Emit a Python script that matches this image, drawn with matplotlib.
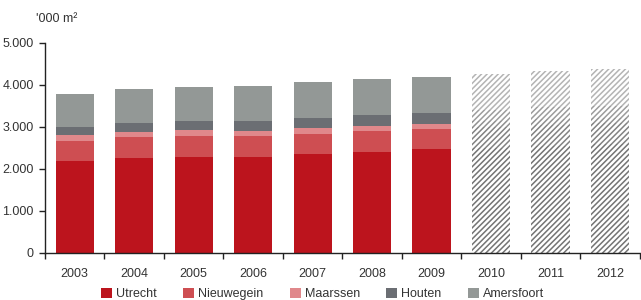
import matplotlib
matplotlib.use("Agg")
import matplotlib.pyplot as plt
import numpy as np
from matplotlib.patches import Patch

plt.rcParams['font.family'] = ['Liberation Sans Narrow', 'Liberation Sans', 'DejaVu Sans']
plt.rcParams['hatch.linewidth'] = 1.1

years = ['2003', '2004', '2005', '2006', '2007', '2008', '2009', '2010', '2011', '2012']
series = ['Utrecht', 'Nieuwegein', 'Maarssen', 'Houten', 'Amersfoort']

# actuals 2003-2009 ('000 m2), stacked segment sizes
utrecht    = [2180, 2250, 2280, 2280, 2350, 2400, 2460]
nieuwegein = [490, 510, 510, 510, 480, 500, 490]
maarssen   = [130, 110, 130, 110, 140, 120, 110]
houten     = [200, 220, 220, 240, 240, 260, 270]
amersfoort = [780, 810, 810, 830, 850, 860, 850]

# forecast 2010-2012 (hatched)
f_utrecht    = [2500, 2550, 2580]
f_nieuwegein = [500, 500, 500]
f_maarssen   = [130, 130, 130]
f_houten     = [270, 280, 280]
f_amersfoort = [850, 870, 880]

colors = ['#BC141D', '#CE4E52', '#E0888B', '#6B6E73', '#939896']
hatch_colors = ['#747474', '#828282', '#909090', '#9c9c9c', '#b4b4b4']

fig = plt.figure(figsize=(6.41, 3.00), dpi=100)
ax = fig.add_axes([0.070, 0.157, 0.928, 0.701])

x = np.arange(len(years))
w = 0.64
actual = [utrecht, nieuwegein, maarssen, houten, amersfoort]
forecast = [f_utrecht, f_nieuwegein, f_maarssen, f_houten, f_amersfoort]

bottom = np.zeros(7)
for vals, c in zip(actual, colors):
    ax.bar(x[:7], vals, w, bottom=bottom, color=c, linewidth=0)
    bottom += np.array(vals)

bottom = np.zeros(3)
for vals, hc in zip(forecast, hatch_colors):
    ax.bar(x[7:], vals, w, bottom=bottom, facecolor='white', edgecolor=hc,
           hatch='//////', linewidth=0)
    bottom += np.array(vals)

ax.set_xlim(-0.5, len(years) - 0.5)
ax.set_ylim(0, 5000)
ax.set_yticks(range(0, 5001, 1000))
ax.set_yticklabels(['0', '1.000', '2.000', '3.000', '4.000', '5.000'])
ax.set_xticks(x)
ax.set_xticklabels(years)
ax.set_xticks(np.arange(-0.5, len(years), 1), minor=True)
ax.tick_params(axis='x', which='major', length=0, pad=11, labelsize=9, colors='#333333')
ax.tick_params(axis='x', which='minor', length=4, width=1, color='#222222', direction='out')
ax.tick_params(axis='y', length=4, width=1, color='#222222', labelsize=9, labelcolor='#333333', pad=4)

for s in ['top', 'right']:
    ax.spines[s].set_visible(False)
for s in ['left', 'bottom']:
    ax.spines[s].set_color('#222222')
    ax.spines[s].set_linewidth(1.0)

fig.text(0.056, 0.937, "'000 m²", fontsize=9, color='#333333', va='center', ha='left')

handles = [Patch(facecolor=c, edgecolor='none', label=s) for c, s in zip(colors, series)]
fig.legend(handles=handles, loc='center', bbox_to_anchor=(0.503, 0.02), ncol=5,
           frameon=False, fontsize=9, handlelength=0.9, handleheight=0.9,
           handletextpad=0.3, columnspacing=2.1, labelcolor='#333333')

fig.savefig('out.png', dpi=100)
